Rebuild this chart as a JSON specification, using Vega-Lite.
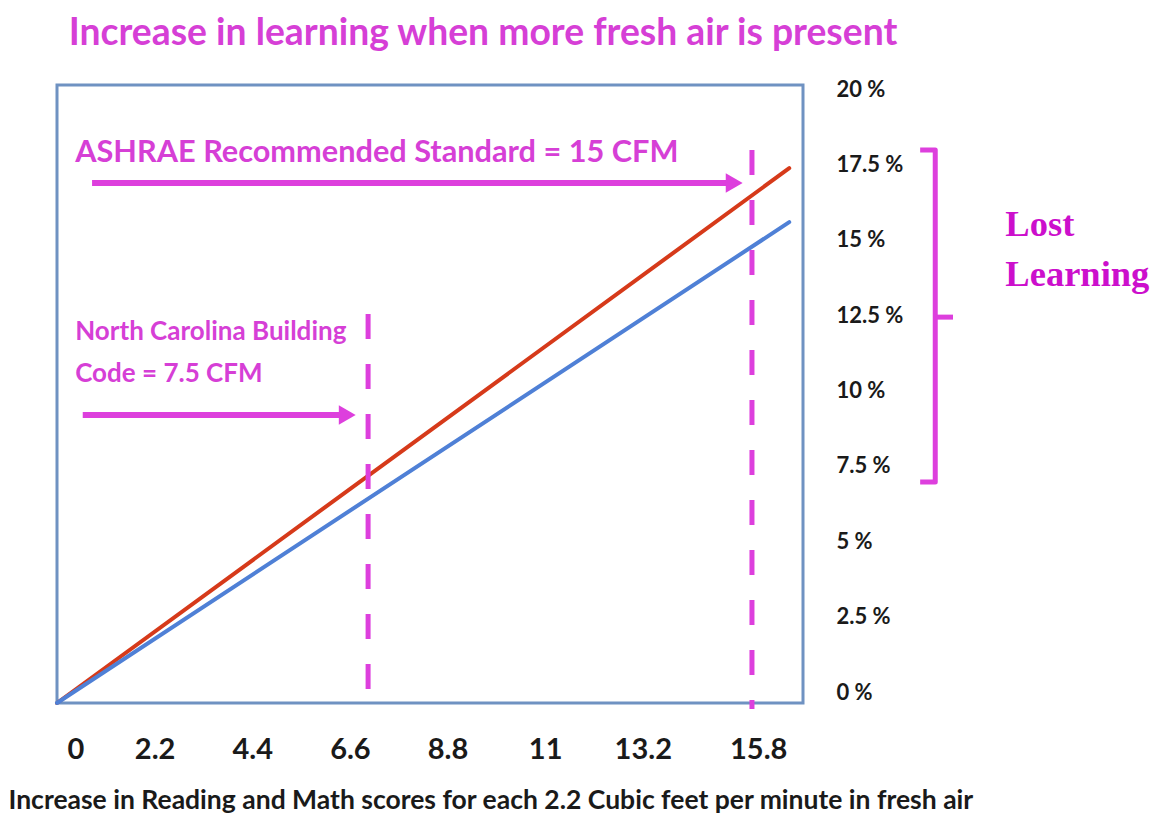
{
  "$schema": "https://vega.github.io/schema/vega-lite/v6.json",
  "width": 746,
  "height": 618,
  "autosize": "none",
  "padding": {"left": 57, "top": 85, "right": 354, "bottom": 115},
  "background": "white",
  "config": {
    "view": {"stroke": "#6f92c2", "strokeWidth": 3},
    "font": "Lato"
  },
  "title": {
    "text": "Increase in learning when more fresh air is present",
    "font": "Lato",
    "fontSize": 37.3,
    "fontWeight": "bold",
    "color": "#d63fd6",
    "anchor": "middle",
    "frame": "group",
    "dx": 53,
    "baseline": "alphabetic",
    "offset": -4
  },
  "datasets": {
    "lines": [
      {"series": "upper", "x": 0, "y": 0},
      {"series": "upper", "x": 16.5, "y": 17.74},
      {"series": "lower", "x": 0, "y": 0},
      {"series": "lower", "x": 16.5, "y": 15.95}
    ],
    "markers": [
      {"label": "North Carolina 7.5 CFM", "x": 7.01, "top": 12.9, "bottom": 0},
      {"label": "ASHRAE 15 CFM", "x": 15.66, "top": 18.34, "bottom": -0.2}
    ],
    "arrows": [
      {"name": "ASHRAE", "x0": 0.79, "x1": 15.26, "y": 17.25},
      {"name": "North Carolina", "x0": 0.58, "x1": 6.54, "y": 9.55}
    ],
    "bigNotes": [
      {"text": "ASHRAE Recommended Standard = 15 CFM", "x": 0.41, "y": 18.24}
    ],
    "smallNotes": [
      {"text": "North Carolina Building", "x": 0.41, "y": 12.3},
      {"text": "Code = 7.5 CFM", "x": 0.41, "y": 10.91}
    ],
    "side": [
      {"text": "Lost", "x": 21.37, "y": 15.85},
      {"text": "Learning", "x": 21.37, "y": 14.2}
    ],
    "bracket": [
      {"part": "brace", "ord": 1, "x": 19.45, "y": 18.34},
      {"part": "brace", "ord": 2, "x": 19.79, "y": 18.34},
      {"part": "brace", "ord": 3, "x": 19.79, "y": 7.33},
      {"part": "brace", "ord": 4, "x": 19.45, "y": 7.33},
      {"part": "tick", "ord": 1, "x": 19.79, "y": 12.8},
      {"part": "tick", "ord": 2, "x": 20.19, "y": 12.8}
    ]
  },
  "layer": [
    {
      "data": {"name": "lines"},
      "mark": {"type": "line", "strokeWidth": 4, "strokeCap": "round"},
      "encoding": {
        "x": {
          "field": "x",
          "type": "quantitative",
          "scale": {"domain": [0, 16.81], "nice": false, "zero": false},
          "axis": {
            "values": [0, 2.2, 4.4, 6.6, 8.8, 11, 13.2, 15.8],
            "labelExpr": "datum.value + ''",
            "grid": false,
            "ticks": false,
            "domain": false,
            "labelFont": "Lato",
            "labelFontSize": 29,
            "labelFontWeight": "bold",
            "labelColor": "#1a1a1a",
            "labelBaseline": "middle",
            "labelPadding": 46,
            "labelFlushOffset": -10,
            "labelOverlap": false,
            "title": "Increase in Reading and Math scores for each 2.2 Cubic feet per minute in fresh air",
            "titleFont": "Lato",
            "titleFontSize": 26.5,
            "titleFontWeight": "bold",
            "titleColor": "#1a1a1a",
            "titleAnchor": "start",
            "titleAlign": "left",
            "titleBaseline": "middle",
            "titleX": -49,
            "titleY": 97
          }
        },
        "y": {
          "field": "y",
          "type": "quantitative",
          "scale": {"domain": [0, 20.5], "nice": false, "zero": false},
          "axis": {
            "orient": "right",
            "values": [0, 2.5, 5, 7.5, 10, 12.5, 15, 17.5, 20],
            "labelExpr": "datum.value + ' %'",
            "grid": false,
            "ticks": false,
            "domain": false,
            "labelFont": "Lato",
            "labelFontSize": 22,
            "labelFontWeight": "bold",
            "labelColor": "#1a1a1a",
            "labelAlign": "left",
            "labelBaseline": "middle",
            "labelPadding": 33,
            "labelOffset": -11,
            "labelFlush": false,
            "labelOverlap": false,
            "title": null
          }
        },
        "color": {
          "field": "series",
          "type": "nominal",
          "scale": {"domain": ["upper", "lower"], "range": ["#d63a1a", "#4f80d6"]},
          "legend": null
        }
      }
    },
    {
      "data": {"name": "markers"},
      "mark": {"type": "rule", "color": "#dd3fdd", "strokeWidth": 5, "strokeDash": [25, 25]},
      "encoding": {
        "x": {"field": "x", "type": "quantitative"},
        "y": {"field": "top", "type": "quantitative"},
        "y2": {"field": "bottom"}
      }
    },
    {
      "data": {"name": "arrows"},
      "mark": {"type": "rule", "color": "#dd3fdd", "strokeWidth": 6},
      "encoding": {
        "x": {"field": "x0", "type": "quantitative"},
        "x2": {"field": "x1"},
        "y": {"field": "y", "type": "quantitative"}
      }
    },
    {
      "data": {"name": "arrows"},
      "mark": {"type": "point", "shape": "triangle-right", "filled": true, "color": "#dd3fdd", "opacity": 1, "size": 380},
      "encoding": {
        "x": {"field": "x1", "type": "quantitative"},
        "y": {"field": "y", "type": "quantitative"}
      }
    },
    {
      "data": {"name": "bigNotes"},
      "mark": {"type": "text", "font": "Lato", "fontSize": 30.7, "fontWeight": "bold", "color": "#d63fd6", "align": "left", "baseline": "middle"},
      "encoding": {
        "x": {"field": "x", "type": "quantitative"},
        "y": {"field": "y", "type": "quantitative"},
        "text": {"field": "text"}
      }
    },
    {
      "data": {"name": "smallNotes"},
      "mark": {"type": "text", "font": "Lato", "fontSize": 26, "fontWeight": "bold", "color": "#d63fd6", "align": "left", "baseline": "middle"},
      "encoding": {
        "x": {"field": "x", "type": "quantitative"},
        "y": {"field": "y", "type": "quantitative"},
        "text": {"field": "text"}
      }
    },
    {
      "data": {"name": "side"},
      "mark": {"type": "text", "font": "Liberation Serif", "fontSize": 36.5, "fontWeight": "bold", "color": "#cc0fcc", "align": "left", "baseline": "middle"},
      "encoding": {
        "x": {"field": "x", "type": "quantitative"},
        "y": {"field": "y", "type": "quantitative"},
        "text": {"field": "text"}
      }
    },
    {
      "data": {"name": "bracket"},
      "mark": {"type": "line", "color": "#dd3fdd", "strokeWidth": 5, "strokeJoin": "round", "strokeCap": "butt"},
      "encoding": {
        "x": {"field": "x", "type": "quantitative"},
        "y": {"field": "y", "type": "quantitative"},
        "detail": {"field": "part"},
        "order": {"field": "ord"}
      }
    }
  ]
}
